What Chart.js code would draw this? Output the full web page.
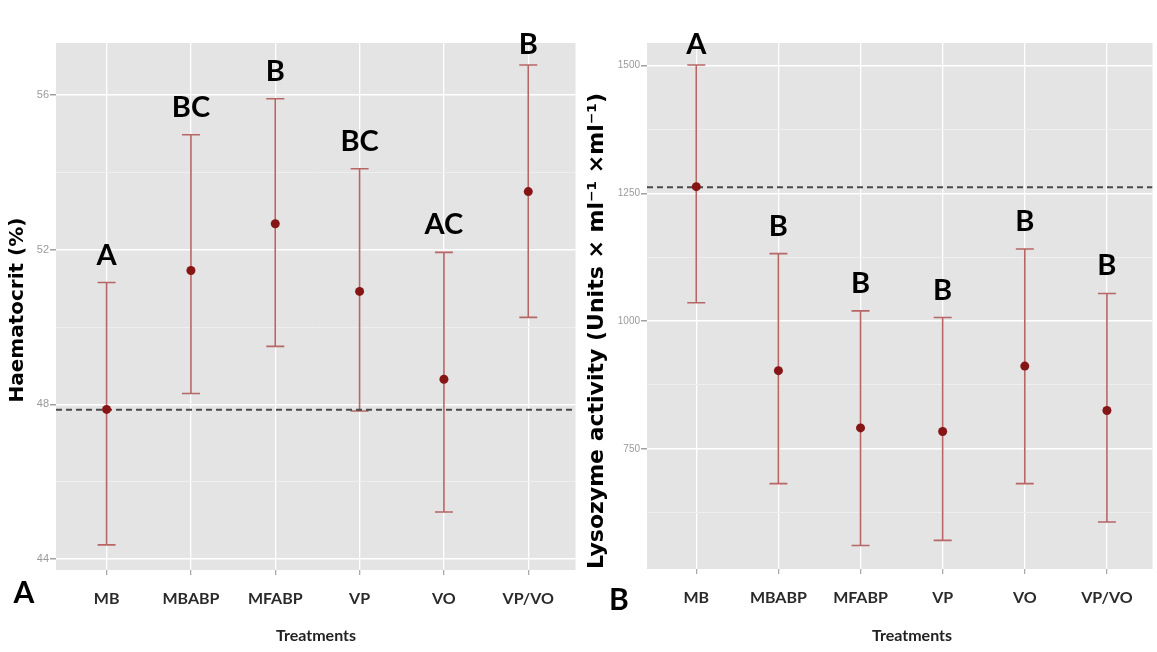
<!DOCTYPE html>
<html>
<head>
<meta charset="utf-8">
<script src="https://cdn.jsdelivr.net/npm/chart.js@4"></script>
<style>
html, body { margin: 0; padding: 0; background: #fff; }
#wrap { position: relative; width: 1157px; height: 652px; overflow: hidden; }
#hctChart { position: absolute; left: 0; top: 0; }
#lysChart { position: absolute; left: 580px; top: 0; }
</style>
</head>
<body>
<div id="wrap">
  <canvas id="hctChart" width="580" height="652"></canvas>
  <canvas id="lysChart" width="577" height="652"></canvas>
</div>
<script>
// categories
var treatments = ["MB", "MBABP", "MFABP", "VP", "VO", "VP/VO"];

// panel A - haematocrit
var hctMean  = [47.87, 51.46, 52.67, 50.92, 48.65, 53.50];
var hctUpper = [51.15, 54.97, 55.90, 54.09, 51.93, 56.77];
var hctLower = [44.37, 48.28, 49.50, 47.83, 45.22, 50.25];
var hctGroups = ["A", "BC", "B", "BC", "AC", "B"];
var hctControl = 47.86;
var hctTicks = [44, 48, 52, 56];
var hctMinor = [46, 50, 54];

// panel B - lysozyme
var lysMean  = [1263, 903, 791, 784, 912, 825];
var lysUpper = [1501, 1132, 1020, 1007, 1141, 1054];
var lysLower = [1036, 682, 561, 571, 682, 607];
var lysGroups = ["A", "B", "B", "B", "B", "B"];
var lysControl = 1262;
var lysTicks = [750, 1000, 1250, 1500];
var lysMinor = [625, 875, 1125, 1375];

var barColor = '#b76565';
var dotColor = '#861616';

function panelPlugin(p) {
  return {
    id: 'panel',
    beforeDraw: function (chart) {
      var a = chart.chartArea, ctx = chart.ctx;
      ctx.save();
      ctx.fillStyle = '#e4e4e4';
      ctx.fillRect(a.left, a.top, a.right - a.left, a.bottom - a.top);
      ctx.restore();
    },
    beforeDatasetsDraw: function (chart) {
      var ctx = chart.ctx, xs = chart.scales.x, ys = chart.scales.y;
      ctx.save();
      ctx.strokeStyle = barColor;
      ctx.lineWidth = 1.6;
      for (var i = 0; i < treatments.length; i++) {
        var x = xs.getPixelForValue(i);
        var yu = ys.getPixelForValue(p.upper[i]);
        var yl = ys.getPixelForValue(p.lower[i]);
        ctx.beginPath();
        ctx.moveTo(x, yu); ctx.lineTo(x, yl);
        ctx.moveTo(x - 9, yu); ctx.lineTo(x + 9, yu);
        ctx.moveTo(x - 9, yl); ctx.lineTo(x + 9, yl);
        ctx.stroke();
      }
      ctx.restore();
    },
    afterDraw: function (chart) {
      var ctx = chart.ctx, xs = chart.scales.x, ys = chart.scales.y;
      ctx.save();
      ctx.fillStyle = '#000';
      ctx.textAlign = 'center';
      // significance letters, kept from running off the top
      ctx.font = 'bold 29px Lato';
      ctx.textBaseline = 'alphabetic';
      for (var i = 0; i < treatments.length; i++) {
        var base = Math.max(ys.getPixelForValue(p.upper[i]) - 18, chart.chartArea.top + 11);
        ctx.fillText(p.groups[i], xs.getPixelForValue(i), base);
      }
      // panel letter
      ctx.font = 'bold 30px Lato';
      ctx.textBaseline = 'middle';
      ctx.fillText(p.panel, p.panelX, p.panelY);
      // x title
      ctx.font = 'bold 16px Lato';
      ctx.fillStyle = '#222';
      ctx.fillText('Treatments', p.xTitleX, 636);
      // y title
      ctx.translate(p.yTitleX, p.yTitleY);
      ctx.rotate(-Math.PI / 2);
      ctx.fillStyle = '#000';
      ctx.font = 'bold ' + p.yTitleSize + 'px "DejaVu Sans"';
      ctx.fillText(p.yTitle, 0, 0);
      ctx.restore();
    }
  };
}

function makeChart(id, p) {
  var grid = p.major.concat(p.minor).sort(function (a, b) { return a - b; });
  return new Chart(document.getElementById(id), {
    type: 'scatter',
    data: {
      datasets: [{
        data: p.mean.map(function (v, i) { return { x: i, y: v }; }),
        pointRadius: 4.5,
        pointBackgroundColor: dotColor,
        pointBorderColor: dotColor,
        pointBorderWidth: 0,
        order: 0
      }, {
        type: 'line',
        data: [{ x: p.xMin, y: p.control }, { x: p.xMax, y: p.control }],
        borderColor: '#4a4a4a',
        borderWidth: 2,
        borderDash: [6, 4],
        pointRadius: 0,
        order: 1
      }]
    },
    options: {
      responsive: false,
      animation: false,
      layout: { padding: { left: 0, top: 43, right: p.padRight, bottom: 0 } },
      plugins: { legend: { display: false }, tooltip: { enabled: false } },
      scales: {
        x: {
          type: 'linear',
          min: p.xMin,
          max: p.xMax,
          afterBuildTicks: function (s) { s.ticks = treatments.map(function (t, i) { return { value: i }; }); },
          afterFit: function (s) { s.height = p.xAxisH; },
          border: { display: false },
          grid: { color: '#ffffff', lineWidth: 1.3, tickColor: '#aaaaaa', tickLength: 5 },
          ticks: {
            padding: 14,
            color: '#2a2a2a',
            font: { family: 'Lato', size: 16, weight: 'bold' },
            maxRotation: 0,
            callback: function (v) { return treatments[v]; }
          }
        },
        y: {
          min: p.yMin,
          max: p.yMax,
          afterBuildTicks: function (s) { s.ticks = grid.map(function (v) { return { value: v }; }); },
          afterFit: function (s) { s.width = p.yAxisW; },
          border: { display: false },
          grid: {
            color: function (c) { return p.major.indexOf(c.tick.value) >= 0 ? '#ffffff' : '#efefef'; },
            lineWidth: function (c) { return p.major.indexOf(c.tick.value) >= 0 ? 1.5 : 1; },
            tickColor: function (c) { return p.major.indexOf(c.tick.value) >= 0 ? '#a0a0a0' : 'rgba(0,0,0,0)'; },
            tickLength: 6
          },
          ticks: {
            padding: 1,
            color: '#9a9a9a',
            font: { family: 'Liberation Sans', size: p.yFont },
            callback: function (v) { return p.major.indexOf(v) >= 0 ? String(v) : ''; }
          }
        }
      }
    },
    plugins: [panelPlugin(p)]
  });
}

makeChart('hctChart', {
  mean: hctMean, upper: hctUpper, lower: hctLower, groups: hctGroups,
  control: hctControl, major: hctTicks, minor: hctMinor,
  yMin: 43.72, yMax: 57.34, xMin: -0.6, xMax: 5.56,
  yAxisW: 56, xAxisH: 82, padRight: 3, yFont: 11,
  panel: 'A', panelX: 24, panelY: 593,
  xTitleX: 316, yTitle: 'Haematocrit (%)', yTitleSize: 20, yTitleX: 18, yTitleY: 310
});

makeChart('lysChart', {
  mean: lysMean, upper: lysUpper, lower: lysLower, groups: lysGroups,
  control: lysControl, major: lysTicks, minor: lysMinor,
  yMin: 515, yMax: 1544, xMin: -0.6, xMax: 5.555,
  yAxisW: 67, xAxisH: 83, padRight: 1, yFont: 10,
  panel: 'B', panelX: 39, panelY: 600,
  xTitleX: 332, yTitle: 'Lysozyme activity (Units \u00d7 ml\u207b\u00b9 \u00d7ml\u207b\u00b9)', yTitleSize: 22, yTitleX: 17, yTitleY: 331
});
</script>
</body>
</html>
